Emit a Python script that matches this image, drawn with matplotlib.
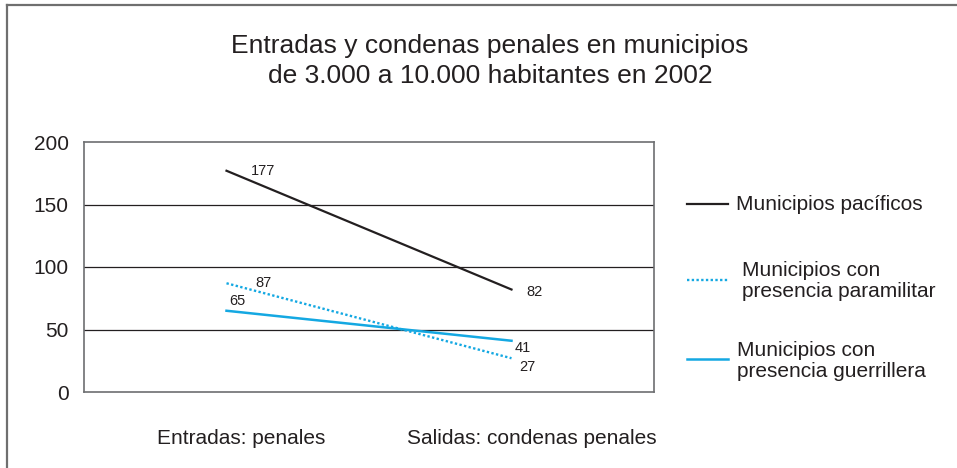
import matplotlib.pyplot as plt
from matplotlib.lines import Line2D

plt.rcParams['font.family'] = ['Liberation Sans', 'DejaVu Sans']

# data
categories = ['Entradas: penales', 'Salidas: condenas penales']
series_names = ['Municipios pacíficos',
                'Municipios con\npresencia paramilitar',
                'Municipios con\npresencia guerrillera']
pacificos = [177, 82]
paramilitar = [87, 27]
guerrillera = [65, 41]
y_ticks = [0, 50, 100, 150, 200]

BLACK = '#231f20'
CYAN = '#14a8e2'

W, H = 957, 468
fig = plt.figure(figsize=(W / 100, H / 100), dpi=100)

# outer frame (only top and left visible in the original crop)
fig.add_artist(Line2D([7 / W, 7 / W], [0, 1 - 5 / H], color='#6f6f6f', lw=1.6))
fig.add_artist(Line2D([7 / W, 1], [1 - 5 / H, 1 - 5 / H], color='#6f6f6f', lw=1.6))

fig.text(490 / W, 1 - 61 / H,
         'Entradas y condenas penales en municipios\nde 3.000 a 10.000 habitantes en 2002',
         ha='center', va='center', fontsize=19, color=BLACK, linespacing=1.32)

ax = fig.add_axes([84 / W, 1 - 392 / H, 570 / W, 250 / H])
x = [0, 1]
ax.plot(x, pacificos, color=BLACK, lw=1.6, zorder=3)
ax.plot(x, paramilitar, color=CYAN, lw=1.7, linestyle=(0, (1, 1)), zorder=3)
ax.plot(x, guerrillera, color=CYAN, lw=1.8, zorder=3)

ax.set_xlim(-0.5, 1.5)
ax.set_ylim(0, 200)
ax.set_yticks(y_ticks)
ax.set_yticklabels([str(v) for v in y_ticks], fontsize=15, color=BLACK)
ax.set_xticks([])
ax.tick_params(axis='y', length=0, pad=11)
for v in y_ticks[1:-1]:
    ax.axhline(v, color=BLACK, lw=0.9, zorder=1)
for s in ax.spines.values():
    s.set_color('#6d6e71')
    s.set_linewidth(1.2)

# value labels (pixel offsets from the points)
offsets = {
    (0, pacificos[0]): (24, 0),
    (0, paramilitar[0]): (29, 0),
    (0, guerrillera[0]): (3, 10),
    (1, pacificos[1]): (15, -2),
    (1, guerrillera[1]): (3, -7),
    (1, paramilitar[1]): (8, -9),
}
for (xi, yi), (dx, dy) in offsets.items():
    ax.annotate(str(yi), (xi, yi), xytext=(dx, dy), textcoords='offset pixels',
                ha='left', va='center', fontsize=10.5, color=BLACK)

# category labels below the plot
fig.text(241 / W, 1 - 438 / H, categories[0], ha='center', va='center',
         fontsize=15, color=BLACK)
fig.text(532 / W, 1 - 438 / H, categories[1], ha='center', va='center',
         fontsize=15, color=BLACK)

# manual legend
legend_rows = [
    (204, 204, BLACK, '-', 1.6, 736),
    (280, 281, CYAN, (0, (1, 1)), 1.7, 742),
    (359, 361, CYAN, '-', 1.8, 737),
]
for (ly, ty, col, ls, lw, tx), name in zip(legend_rows, series_names):
    fig.add_artist(Line2D([687 / W, 728 / W], [1 - ly / H, 1 - ly / H],
                          color=col, linestyle=ls, lw=lw))
    fig.text(tx / W, 1 - ty / H, name, ha='left', va='center',
             fontsize=15, color=BLACK, linespacing=1.15)

fig.savefig('out.png', dpi=100)
